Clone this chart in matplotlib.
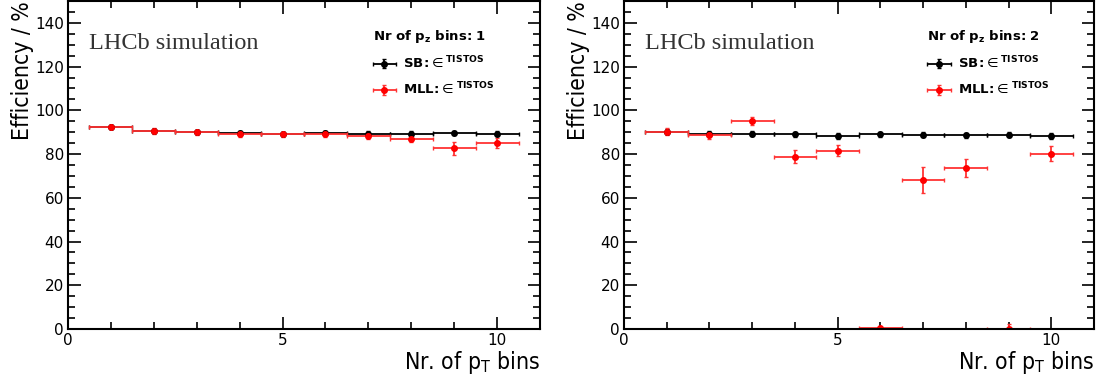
import matplotlib
matplotlib.use("Agg")
import matplotlib.pyplot as plt
from matplotlib.ticker import MultipleLocator
from matplotlib.legend_handler import HandlerErrorbar
from matplotlib.container import ErrorbarContainer

plt.rcParams["font.family"] = ["DejaVu Sans"]
plt.rcParams["mathtext.fontset"] = "dejavusans"

# ---- data ----
pt_bins = [1, 2, 3, 4, 5, 6, 7, 8, 9, 10]
pt_halfwidth = [0.5] * 10

# pz bins = 1
sb_eff_1 = [92.3, 90.5, 90.0, 89.5, 89.3, 89.6, 89.4, 89.4, 89.5, 89.4]
sb_err_1 = [0.8, 1.0, 1.0, 1.0, 1.0, 1.0, 1.0, 1.0, 1.0, 1.0]
mll_eff_1 = [92.3, 90.5, 90.0, 89.0, 89.0, 89.3, 88.3, 87.1, 82.6, 85.1]
mll_err_1 = [0.8, 1.2, 1.2, 1.3, 1.3, 1.3, 1.6, 1.8, 3.0, 2.2]

# pz bins = 2
sb_eff_2 = [90.3, 89.3, 89.3, 89.0, 88.4, 89.0, 88.8, 88.5, 88.8, 88.2]
sb_err_2 = [1.0, 1.2, 1.2, 1.2, 1.3, 1.2, 1.2, 1.3, 1.2, 1.3]
mll_eff_2 = [90.3, 88.5, 95.3, 78.7, 81.5, 0.6, 68.2, 73.6, 0.2, 80.2]
mll_err_2 = [1.5, 1.5, 1.8, 3.0, 2.5, 0.3, 6.1, 4.3, 2.0, 3.5]

panels = [
    ("1", sb_eff_1, sb_err_1, mll_eff_1, mll_err_1),
    ("2", sb_eff_2, sb_err_2, mll_eff_2, mll_err_2),
]

fig = plt.figure(figsize=(11.1, 3.9), dpi=100)
axes_rects = [
    [68 / 1110, 61 / 390, 472 / 1110, 328 / 390],
    [624 / 1110, 61 / 390, 470 / 1110, 328 / 390],
]

# ROOT-like narrow sans for the axis titles
label_font = dict(family="DejaVu Sans", stretch="condensed", fontsize=16.5)

for rect, (nz, sb, sb_e, mll, mll_e) in zip(axes_rects, panels):
    ax = fig.add_axes(rect)
    h_sb = ax.errorbar(pt_bins, sb, xerr=pt_halfwidth, yerr=sb_e, fmt="o",
                       color="black", ms=4, lw=1.3, capsize=1.5, capthick=1)
    h_mll = ax.errorbar(pt_bins, mll, xerr=pt_halfwidth, yerr=mll_e, fmt="o",
                        color="red", ecolor=(1, 0.2, 0.2), ms=4, lw=1.3,
                        capsize=1.5, capthick=1)
    ax.set_xlim(0, 11)
    ax.set_ylim(0, 150)
    ax.xaxis.set_major_locator(MultipleLocator(5))
    ax.xaxis.set_minor_locator(MultipleLocator(1))
    ax.yaxis.set_minor_locator(MultipleLocator(5))
    ax.set_yticks(range(0, 141, 20))
    ax.tick_params(which="both", direction="in", top=True, right=True,
                   labelsize=11, width=1.2)
    ax.tick_params(which="major", length=9, pad=3)
    ax.tick_params(which="minor", length=5)
    for sp in ax.spines.values():
        sp.set_linewidth(1.5)

    ax.set_ylabel("Efficiency / %", loc="top", **label_font)
    ax.yaxis.set_label_coords(-0.072, 1.0)
    ax.set_xlabel(r"Nr. of p$_\mathregular{T}$ bins", loc="right", **label_font)
    ax.xaxis.set_label_coords(1.0, -0.06)

    ax.text(0.045, 0.855, "LHCb simulation", transform=ax.transAxes,
            family="Liberation Serif", fontsize=17.5, color="#333333",
            ha="left", va="baseline")

    leg = ax.legend([h_sb, h_mll],
                    [r"$\mathbf{SB\!:}\!\in^{\mathbf{TISTOS}}$",
                     r"$\mathbf{MLL\!:}\!\in^{\mathbf{TISTOS}}$"],
                    title=r"Nr of $\mathbf{p_z}$ bins: " + nz,
                    title_fontproperties={"weight": "bold", "size": 9.5},
                    fontsize=9.5, frameon=False, loc="upper left",
                    bbox_to_anchor=(0.62, 0.955), handlelength=1.8,
                    handletextpad=0.5, labelspacing=0.75,
                    handler_map={ErrorbarContainer:
                                 HandlerErrorbar(xerr_size=0.9, yerr_size=0.35)})
    leg._legend_box.align = "left"

fig.savefig("out.png", dpi=100)
